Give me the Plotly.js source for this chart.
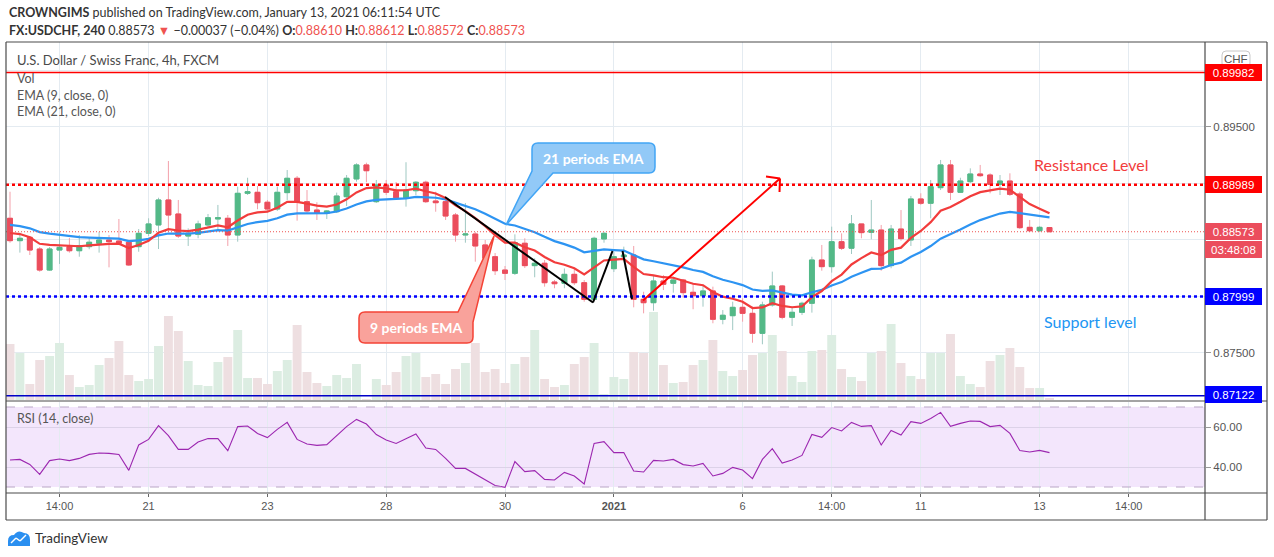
<!DOCTYPE html>
<html><head><meta charset="utf-8">
<script src="https://cdn.plot.ly/plotly-3.0.1.min.js"></script>
<style>html,body{margin:0;padding:0;background:#fff}#chart{width:1274px;height:557px}</style>
</head><body><div id="chart"></div>
<script>
// ---------------- DATA ----------------
const opens = [0.88692,0.88494,0.88524,0.88420,0.88234,0.88411,0.88441,0.88405,0.88441,0.88471,
0.88500,0.88491,0.88480,0.88441,0.88559,0.88633,0.88854,0.88730,0.88535,0.88550,
0.88633,0.88686,0.88692,0.88544,0.88913,0.88922,0.88834,0.88774,0.88919,0.89046,
0.88839,0.88765,0.88736,0.88750,0.88883,0.89040,0.89164,0.88839,0.88987,0.88927,
0.88874,0.88936,0.89011,0.88845,0.88839,0.88721,0.88544,0.88553,0.88456,0.88352,
0.88234,0.88205,0.88471,0.88273,0.88294,0.88128,0.88117,0.88196,0.88122,0.87975,
0.88509,0.88246,0.88352,0.88367,0.87975,0.87945,0.88137,0.88117,0.88146,0.88037,
0.88007,0.88049,0.87798,0.87830,0.87904,0.87851,0.87674,0.87925,0.88093,0.87816,
0.87860,0.87940,0.88323,0.88264,0.88485,0.88427,0.88642,0.88568,0.88588,0.88273,
0.88597,0.88500,0.88863,0.88825,0.88963,0.89164,0.88922,0.89016,0.89084,0.89075,
0.88993,0.89022,0.88907,0.88612,0.88582,0.88610];
const highs = [0.88927,0.88565,0.88535,0.88438,0.88438,0.88573,0.88518,0.88544,0.88524,0.88571,
0.88544,0.88686,0.88500,0.88597,0.88692,0.88874,0.89199,0.88854,0.88603,0.88671,
0.88730,0.88810,0.88721,0.88972,0.89051,0.88978,0.88854,0.88972,0.89119,0.89066,
0.88942,0.88834,0.88765,0.88919,0.89075,0.89179,0.89184,0.89031,0.89031,0.89013,
0.89188,0.89022,0.89025,0.88927,0.88883,0.88739,0.88827,0.88571,0.88500,0.88385,
0.88270,0.88550,0.88515,0.88338,0.88323,0.88146,0.88248,0.88241,0.88146,0.88529,
0.88571,0.88394,0.88441,0.88447,0.88042,0.88190,0.88190,0.88175,0.88155,0.88120,
0.88102,0.88087,0.87880,0.87954,0.87984,0.87910,0.87954,0.88220,0.88102,0.87910,
0.87954,0.88352,0.88456,0.88618,0.88559,0.88721,0.88642,0.88854,0.88633,0.88633,
0.88765,0.88890,0.88913,0.89031,0.89208,0.89208,0.89051,0.89134,0.89164,0.89090,
0.89075,0.89090,0.88927,0.88677,0.88624,0.88612];
const lows = [0.88476,0.88388,0.88367,0.88219,0.88226,0.88288,0.88388,0.88352,0.88418,0.88388,
0.88258,0.88456,0.88270,0.88396,0.88535,0.88420,0.88573,0.88518,0.88447,0.88515,
0.88615,0.88588,0.88447,0.88485,0.88898,0.88772,0.88757,0.88757,0.88854,0.88671,
0.88739,0.88677,0.88686,0.88739,0.88801,0.89016,0.89011,0.88827,0.88898,0.88854,
0.88795,0.88898,0.88827,0.88750,0.88677,0.88485,0.88476,0.88308,0.88323,0.88190,
0.88146,0.88190,0.88252,0.88170,0.88087,0.88073,0.88073,0.88102,0.87954,0.87960,
0.88476,0.88217,0.88323,0.87904,0.87851,0.87874,0.88057,0.88034,0.87989,0.87887,
0.87910,0.87763,0.87754,0.87703,0.87777,0.87591,0.87577,0.87910,0.87798,0.87739,
0.87836,0.87857,0.88228,0.88211,0.88411,0.88376,0.88515,0.88506,0.88228,0.88250,
0.88494,0.88447,0.88810,0.88692,0.88942,0.88854,0.88916,0.89004,0.89058,0.88913,
0.88898,0.88889,0.88597,0.88573,0.88571,0.88572];
const closes = [0.88494,0.88515,0.88411,0.88234,0.88420,0.88435,0.88405,0.88450,0.88480,0.88500,
0.88485,0.88471,0.88279,0.88559,0.88642,0.88854,0.88721,0.88535,0.88559,0.88642,
0.88697,0.88697,0.88544,0.88913,0.88927,0.88830,0.88774,0.88922,0.89046,0.88839,
0.88757,0.88736,0.88757,0.88889,0.89046,0.89164,0.89113,0.88987,0.88922,0.88874,
0.88942,0.89011,0.88839,0.88830,0.88712,0.88544,0.88553,0.88447,0.88338,0.88228,
0.88205,0.88476,0.88273,0.88294,0.88122,0.88113,0.88196,0.88122,0.87975,0.88515,
0.88559,0.88352,0.88367,0.87975,0.87945,0.88137,0.88108,0.88146,0.88034,0.88007,
0.88049,0.87798,0.87834,0.87904,0.87851,0.87674,0.87925,0.88093,0.87816,0.87860,
0.87940,0.88323,0.88264,0.88485,0.88427,0.88642,0.88565,0.88588,0.88273,0.88597,
0.88512,0.88863,0.88825,0.88972,0.89164,0.88922,0.89022,0.89084,0.89069,0.88993,
0.89022,0.88904,0.88609,0.88582,0.88612,0.88573];
// relative volume (arbitrary units, read as bar heights)
const volumes = [56,47,16,40,44,57,25,13,15,35,42,59,25,19,21,54,84,69,39,15,
14,38,43,70,22,22,16,29,40,75,28,17,14,25,22,36,1,21,15,28,
44,47,23,26,16,31,37,57,28,31,17,36,43,70,21,13,15,36,43,57,
6,23,21,48,47,88,35,17,18,35,40,60,29,24,30,45,47,65,49,24,
18,49,50,65,31,23,19,47,49,76,37,24,21,47,47,66,24,16,13,39,
45,52,33,12,12,2];
const rsi = [43.5,43.8,41.3,36.3,43.2,44.0,43.2,44.3,46.3,47.0,
46.8,46.3,38.3,51.0,53.8,60.7,55.7,48.8,48.8,52.5,
54.2,54.2,48.2,60.2,60.5,56.8,54.7,58.8,62.3,53.8,
51.5,50.8,51.2,55.7,60.2,63.8,61.5,56.2,53.5,51.8,
54.2,56.5,49.5,48.8,44.3,39.3,39.3,36.5,33.8,30.7,
29.8,42.7,37.7,38.2,33.8,33.5,37.3,35.5,31.5,51.8,
52.7,47.2,47.2,38.0,37.5,43.3,43.0,43.8,41.2,40.5,
41.8,35.5,36.8,39.8,38.5,34.2,43.8,49.2,42.0,43.5,
45.8,56.3,54.8,59.7,58.0,62.3,60.3,60.7,51.0,58.3,
56.0,62.7,61.8,64.3,67.3,60.3,61.8,63.0,62.8,60.2,
60.8,56.8,48.2,47.5,48.3,47.2];
const ema9Seed = 0.88562, ema21Seed = 0.88633;   // EMA values at the first visible bar
const tickBars = [5,14,26,38,50,61,74,83,92,104,113];
const tickLabels = ['14:00','21','23','28','30','<b>2021</b>','6','14:00','11','13','14:00'];
const priceTicks = [0.875,0.880,0.885,0.890,0.895,0.900];
const priceTickLabels = ['0.87500','','','','0.89500',''];
const rsiTicks = [40,60];
const rsiTickLabels = ['40.00','60.00'];
const resistance = 0.88989, support = 0.87999, upperLine = 0.89982, lowerLine = 0.87122, lastPrice = 0.88573;
const countdown = '03:48:08';

// ---------------- derived ----------------
const idx = closes.map((_, i) => i);
function ema(series, n, seed) {
  const a = 2 / (n + 1); let e = seed;
  return series.map((c, i) => { if (i > 0) e = a * c + (1 - a) * e; return e; });
}
const ema9 = ema(closes, 9, ema9Seed);
const ema21 = ema(closes, 21, ema21Seed);
const bodyHi = opens.map((o, i) => Math.max(o, closes[i]));
const bodyLo = opens.map((o, i) => Math.min(o, closes[i]));
const UP = '#53b987', DN = '#eb4d5c';
const volColors = closes.map((c, i) => c >= opens[i] ? '#dcede2' : '#eedfe1');

// ---------------- geometry helpers (pixels -> paper) ----------------
const W = 1274, H = 557;
const M = {l: 6, r: 69, t: 42, b: 64};
const PW = W - M.l - M.r, PH = H - M.t - M.b;
const PX = px => (px - M.l) / PW;
const PY = py => (H - M.b - py) / PH;
const P = (x, y) => PX(x).toFixed(5) + ',' + PY(y).toFixed(5);
const BAR0 = 10, STEP = 9.9;
const xRange = [(M.l - BAR0) / STEP, (W - M.r - BAR0) / STEP];

const FT = 'Lato, "Open Sans", sans-serif';
const FA = '"Liberation Sans", Arial, sans-serif';

// ---------------- traces ----------------
const traces = [
  {type: 'bar', x: idx, y: volumes, xaxis: 'x', yaxis: 'y', width: 0.9,
   marker: {color: volColors, line: {width: 0}}, hoverinfo: 'skip'},
  {type: 'candlestick', x: idx, open: opens, high: highs, low: lows, close: closes,
   xaxis: 'x', yaxis: 'y3', whiskerwidth: 0, hoverinfo: 'skip',
   increasing: {line: {color: '#9fc8c2', width: 1}, fillcolor: UP},
   decreasing: {line: {color: '#f3a0aa', width: 1}, fillcolor: DN}},
  {type: 'candlestick', x: idx, open: opens, high: bodyHi, low: bodyLo, close: closes,
   xaxis: 'x', yaxis: 'y3', whiskerwidth: 0, hoverinfo: 'skip',
   increasing: {line: {color: UP, width: 1}, fillcolor: UP},
   decreasing: {line: {color: DN, width: 1}, fillcolor: DN}},
  {type: 'scatter', mode: 'lines', x: idx, y: ema21, xaxis: 'x', yaxis: 'y3',
   line: {color: '#2d94f2', width: 2.2}, hoverinfo: 'skip'},
  {type: 'scatter', mode: 'lines', x: idx, y: ema9, xaxis: 'x', yaxis: 'y3',
   line: {color: '#f23c3c', width: 2.2}, hoverinfo: 'skip'},
  {type: 'scatter', mode: 'lines', x: idx, y: rsi, xaxis: 'x', yaxis: 'y2',
   line: {color: '#9c27b0', width: 1.1}, hoverinfo: 'skip'}
];

// ---------------- shapes ----------------
const FRAME = '#4a4a4a';
function pline(x0, y0, x1, y1, color, width, dash) {
  return {type: 'line', xref: 'paper', yref: 'paper', x0: PX(x0), y0: PY(y0), x1: PX(x1), y1: PY(y1),
          line: {color: color, width: width, dash: dash || 'solid'}};
}
function hline(yv, yref, color, width, dash) {
  return {type: 'line', xref: 'paper', yref: yref, x0: 0, x1: 1, y0: yv, y1: yv,
          line: {color: color, width: width, dash: dash || 'solid'}};
}
const shapes = [
  {type: 'rect', xref: 'paper', yref: 'y2', x0: 0, x1: 1, y0: 30, y1: 70, layer: 'below',
   fillcolor: '#f3e6fc', line: {width: 0}},
  hline(70, 'y2', '#b9a6c6', 1, 'dash'),
  hline(30, 'y2', '#b9a6c6', 1, 'dash'),
  hline(lastPrice, 'y3', '#ef5350', 1, '1px,2px'),
  hline(upperLine, 'y3', '#ff0000', 1.5),
  hline(lowerLine, 'y3', '#0000c8', 1.5),
  hline(resistance, 'y3', '#ff0000', 2.5, 'dot'),
  hline(support, 'y3', '#0000ff', 2.5, 'dot'),
  // drawings
  pline(445, 197, 593, 302.5, '#000', 2),
  pline(593, 302.5, 612.5, 251, '#000', 2),
  pline(622.5, 251, 632, 299, '#000', 2),
  pline(643, 300.5, 780, 178.5, '#ff0000', 2),
  pline(780, 178.5, 766, 176.5, '#ff0000', 2),
  pline(780, 178.5, 779.5, 192, '#ff0000', 2),
  // callouts
  {type: 'path', xref: 'paper', yref: 'paper', fillcolor: '#92c9f7', line: {color: '#42a5f5', width: 1.5},
   path: `M ${P(538,143)} L ${P(649,143)} Q ${P(655,143)} ${P(655,149)} L ${P(655,167)} Q ${P(655,173)} ${P(649,173)} L ${P(553,173)} L ${P(506,225)} L ${P(532,171)} L ${P(532,149)} Q ${P(532,143)} ${P(538,143)} Z`},
  {type: 'path', xref: 'paper', yref: 'paper', fillcolor: '#f9a29b', line: {color: '#f44336', width: 1.5},
   path: `M ${P(365,312)} L ${P(458,312)} L ${P(494,236)} L ${P(473,322)} L ${P(473,337)} Q ${P(473,343)} ${P(467,343)} L ${P(365,343)} Q ${P(359,343)} ${P(359,337)} L ${P(359,318)} Q ${P(359,312)} ${P(365,312)} Z`},
  // CHF box
  {type: 'path', xref: 'paper', yref: 'paper', fillcolor: '#fff', line: {color: '#c8c8c8', width: 1},
   path: `M ${P(1226,51)} L ${P(1246,51)} Q ${P(1250,51)} ${P(1250,55)} L ${P(1250,63)} Q ${P(1250,67)} ${P(1246,67)} L ${P(1226,67)} Q ${P(1222,67)} ${P(1222,63)} L ${P(1222,55)} Q ${P(1222,51)} ${P(1226,51)} Z`},
  // frame
  pline(6, 42, 1267, 42, FRAME, 1.2),
  pline(6, 520, 1267, 520, FRAME, 1.2),
  pline(6, 42, 6, 520, FRAME, 1.2),
  pline(1267, 42, 1267, 520, FRAME, 1.2),
  pline(1205, 42, 1205, 520, FRAME, 1.2),
  pline(6, 401, 1267, 401, FRAME, 1.2),
  pline(6, 493, 1267, 493, FRAME, 1.2),
  // TradingView logo (cloud)
  {type: 'path', xref: 'paper', yref: 'paper', fillcolor: '#2a8ff0', line: {width: 0},
   path: `M ${P(8,546)} L ${P(8,541)} Q ${P(8,535)} ${P(14,535)} Q ${P(18,529)} ${P(24,533)} Q ${P(30,533)} ${P(30,540)} L ${P(30,546)} Z`},
  pline(11, 543, 16, 538, '#fff', 1.5),
  pline(16, 538, 20, 541, '#fff', 1.5),
  pline(20, 541, 26, 535, '#fff', 1.5)
];

// ---------------- annotations ----------------
function txt(x, y, text, size, color, anchor, font, extra) {
  return Object.assign({xref: 'paper', yref: 'paper', x: PX(x), y: PY(y), text: text, showarrow: false,
    xanchor: anchor || 'left', yanchor: 'middle', font: {family: font || FT, size: size, color: color}}, extra || {});
}
function priceBox(yc, text, bg) {
  return {xref: 'paper', yref: 'paper', x: PX(1205), y: PY(yc), xanchor: 'left', yanchor: 'middle',
    text: text, showarrow: false, bgcolor: bg, bordercolor: bg, borderwidth: 1, borderpad: 1,
    width: 53, height: 13, align: 'center', font: {family: FA, size: 11.5, color: '#fff'}};
}
const yOf = p => 127 + (0.895 - p) * 11300;  // pixel row of a price (for axis label boxes)
const RED = '#ef5350';
const annotations = [
  txt(7, 12, '<b>CROWNGIMS</b> published on TradingView.com, January 13, 2021 06:11:54 UTC', 12.5, '#333'),
  txt(7, 30, `<b>FX:USDCHF, 240</b> 0.88573 <span style="color:${RED}">▼</span> −0.00037 (−0.04%) <b>O:</b><span style="color:${RED}">0.88610</span> <b>H:</b><span style="color:${RED}">0.88612</span> <b>L:</b><span style="color:${RED}">0.88572</span> <b>C:</b><span style="color:${RED}">0.88573</span>`, 12.5, '#333'),
  txt(15, 60, 'U.S. Dollar / Swiss Franc, 4h, FXCM', 13, '#4a4a4a'),
  txt(15, 78, 'Vol', 12.5, '#555'),
  txt(15, 95, 'EMA (9, close, 0)', 12.5, '#555'),
  txt(15, 112, 'EMA (21, close, 0)', 12.5, '#555'),
  txt(15, 418, 'RSI (14, close)', 12.5, '#555'),
  txt(1091, 164, 'Resistance Level', 16, '#f23c3c', 'center'),
  txt(1090, 321, 'Support level', 16, '#2196f3', 'center'),
  txt(593, 158, '<b>21 periods EMA</b>', 14, '#fff', 'center'),
  txt(416, 327, '<b>9 periods EMA</b>', 14, '#fff', 'center'),
  txt(1236, 59, 'CHF', 11.5, '#555', 'center', FA),
  txt(33, 538, 'TradingView', 13.5, '#333'),
  priceBox(yOf(upperLine), upperLine.toFixed(5), '#ff0000'),
  priceBox(yOf(resistance), resistance.toFixed(5), '#ff0000'),
  priceBox(yOf(lastPrice), lastPrice.toFixed(5), DN),
  priceBox(yOf(lastPrice) + 17.5, countdown, DN),
  priceBox(yOf(support), support.toFixed(5), '#0000ff'),
  priceBox(yOf(lowerLine) - 1, lowerLine.toFixed(5), '#0000ff')
];

// ---------------- layout ----------------
const GRID = '#e4ebf1';
const layout = {
  width: W, height: H, margin: M, paper_bgcolor: '#fff', plot_bgcolor: '#fff',
  showlegend: false, hovermode: false, dragmode: false,
  xaxis: {range: xRange, anchor: 'y2', tickmode: 'array', tickvals: tickBars, ticktext: tickLabels,
    showgrid: true, gridcolor: GRID, zeroline: false, showline: false, ticks: 'outside', ticklen: 3,
    tickcolor: '#666', tickfont: {family: FA, size: 11, color: '#555'}, rangeslider: {visible: false}, fixedrange: true},
  yaxis: {domain: [PY(400), 1], range: [0, 358], visible: false, fixedrange: true},
  yaxis3: {overlaying: 'y', side: 'right', anchor: 'x', range: [0.87084, 0.90252], tickmode: 'array',
    tickvals: priceTicks, ticktext: priceTickLabels, showgrid: true, gridcolor: GRID, zeroline: false,
    showline: false, ticks: 'outside', ticklen: 5, tickcolor: '#999',
    tickfont: {family: FA, size: 11.5, color: '#555'}, fixedrange: true},
  yaxis2: {domain: [0, PY(402)], range: [27, 72.5], side: 'right', anchor: 'x', tickmode: 'array',
    tickvals: rsiTicks, ticktext: rsiTickLabels, showgrid: true, gridcolor: '#dcd2e8', zeroline: false,
    showline: false, ticks: 'outside', ticklen: 5, tickcolor: '#999',
    tickfont: {family: FA, size: 11.5, color: '#555'}, fixedrange: true},
  shapes: shapes, annotations: annotations
};

Plotly.newPlot('chart', traces, layout, {displayModeBar: false, staticPlot: true});
</script></body></html>
